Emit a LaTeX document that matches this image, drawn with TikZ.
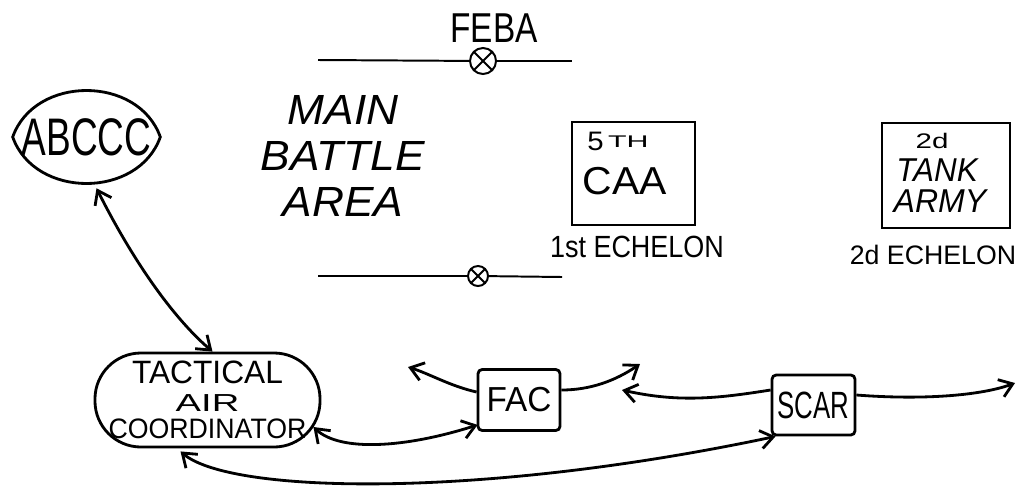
\documentclass[tikz,border=0pt]{standalone}
\usepackage{fontspec}
\setmainfont{Liberation Sans}
\usetikzlibrary{arrows.meta,calc}
\newcommand{\hwtext}[3]{{\fontsize{#1}{#1}\selectfont\scalebox{#2}[1]{#3}}}
\begin{document}
\begin{tikzpicture}[x=0.025cm,y=-0.025cm,
  stroke/.style={line width=2pt},
  thinstroke/.style={line width=1.4pt},
  barb/.tip={Straight Barb[length=9pt,width=13pt,line width=2pt]},
  arr/.style={stroke,-barb},
  darr/.style={stroke,barb-barb},
  txt/.style={inner sep=0pt,align=center},
  xcirc/.style={circle,draw,thinstroke,inner sep=0pt,minimum size=#1,
    path picture={\draw[thinstroke] (path picture bounding box.south west) -- (path picture bounding box.north east)
      (path picture bounding box.north west) -- (path picture bounding box.south east);}},
  sqbox/.style={draw,stroke,inner sep=0pt},
  rbox/.style={draw,stroke,rounded corners=3pt,inner sep=0pt,align=center}
]
\useasboundingbox (0,0) rectangle (1017,487);

% FEBA
\node[txt] (feba) at (494,28) {\hwtext{29.7}{0.8}{FEBA}};
\node[xcirc=0.65cm] (f1) at (483,61) {};
\coordinate (f1l) at (318,60);
\coordinate (f1r) at (572,61);
\draw[thinstroke] (f1l) -- (f1);
\draw[thinstroke] (f1) -- (f1r);

\node[xcirc=0.5cm] (f2) at (478,276) {};
\coordinate (f2l) at (318,276);
\coordinate (f2r) at (562,277);
\draw[thinstroke] (f2l) -- (f2);
\draw[thinstroke] (f2) -- (f2r);

% Main battle area
\node[txt,font=\fontsize{30}{33}\selectfont\itshape] (mba) at (343,156)
  {\scalebox{1.05}[1]{MAIN}\\\scalebox{1.05}[1]{BATTLE}\\\scalebox{1.05}[1]{AREA}};

% ABCCC
\node[inner sep=0pt,minimum width=3.675cm,minimum height=2.3cm] (abccc) at (86.5,137)
  {\hwtext{37.6}{0.7}{ABCCC}};
\draw[stroke] (abccc.west) .. controls ($(abccc.west)+(22,-62)$) and ($(abccc.east)+(-22,-62)$) .. (abccc.east)
  .. controls ($(abccc.east)+(-22,62)$) and ($(abccc.west)+(22,62)$) .. (abccc.west) -- cycle;

% 5TH CAA
\node[sqbox,minimum width=3.075cm,minimum height=2.575cm] (caa) at (633.5,173.5) {};
\node[txt] (caa5) at (618,141) {\hwtext{19}{1.1}{5}\hspace{3pt}\raisebox{2pt}{\hwtext{12}{1.8}{TH}}};
\node[txt] (caat) at (625,181) {\hwtext{27.7}{1.05}{CAA}};
\node[txt] (ech1) at (637,247) {\hwtext{21.8}{0.88}{1st ECHELON}};

% 2d TANK ARMY
\node[sqbox,thinstroke,minimum width=3.2cm,minimum height=2.625cm] (tank) at (946,175.5) {};
\node[txt] (tank2) at (932,141) {\hwtext{15}{1.4}{2d}};
\node[txt] (tankt) at (937,170) {\itshape\hwtext{23.5}{0.95}{TANK}};
\node[txt] (tanka) at (940,201) {\itshape\hwtext{23.5}{0.97}{ARMY}};
\node[txt] (ech2) at (933,255) {\hwtext{19}{1}{2d ECHELON}};

% Tactical air coordinator
\node[draw,stroke,rounded corners=1.15cm,minimum width=5.625cm,minimum height=2.35cm,
  inner sep=0pt,align=center,font=\fontsize{18}{19.5}\selectfont] (tac) at (207.5,400)
  {\hwtext{23}{0.98}{TACTICAL}\\\hwtext{17.5}{1.55}{AIR}\\\hwtext{20}{0.95}{COORDINATOR}};

% FAC
\node[rbox,minimum width=2.05cm,minimum height=1.525cm] (fac) at (519,400) {\hwtext{24.7}{0.96}{FAC}};

% SCAR
\node[rbox,minimum width=2.075cm,minimum height=1.5cm] (scar) at (813.5,405) {\hwtext{27}{0.68}{SCAR}};

% connectors
\draw[darr] ($(abccc.south)+(10,5)$) .. controls (130,255) and (170,315) .. ($(tac.north)+(5,0)$);

\draw[darr] ($(tac.east)+(-8,27)$) .. controls (340,452) and (405,448) .. ($(fac.south west)+(1,-7)$);
\draw[darr] ($(tac.south)+(-27,3)$) .. controls (230,494) and (480,499) .. ($(scar.south west)+(5,0)$);

\coordinate (facl) at (408,367);
\coordinate (facr) at (640,364);
\draw[arr] ($(fac.west)+(0,-8)$) .. controls (450,386) and (430,374) .. (facl);
\draw[arr] ($(fac.east)+(0,-10)$) .. controls (590,390) and (615,381) .. (facr);

\coordinate (scarl) at (622,390);
\coordinate (scarr) at (1015,383);
\draw[arr] ($(scar.west)+(0,-15)$) .. controls (720,398) and (680,403) .. (scarl);
\draw[arr] ($(scar.east)+(0,-10)$) .. controls (920,400) and (980,396) .. (scarr);
\end{tikzpicture}
\end{document}
